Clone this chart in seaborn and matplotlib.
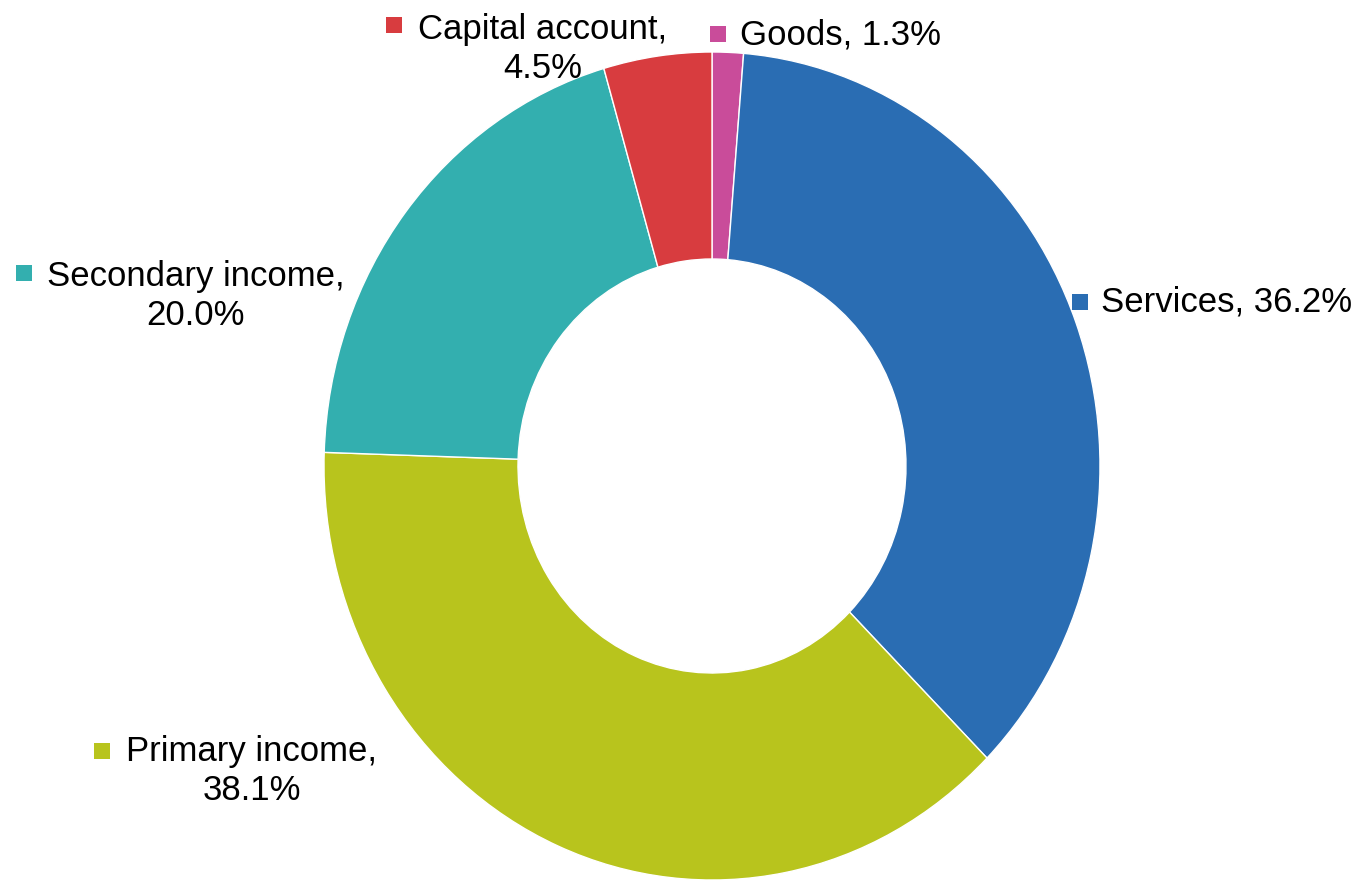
import matplotlib
matplotlib.use("Agg")
import matplotlib.pyplot as plt
import seaborn as sns

# data, clockwise from 12 o'clock
categories = ["Goods", "Services", "Primary income", "Secondary income", "Capital account"]
shares = [1.3, 36.2, 38.1, 20.0, 4.5]
colors = ["#C94C9A", "#2A6DB3", "#B8C41D", "#33AFAF", "#D83C3F"]

sns.set_style("white")
plt.rcParams["font.family"] = ["Liberation Sans", "DejaVu Sans"]

W, H = 1362, 882
fig = plt.figure(figsize=(W / 100, H / 100), dpi=100)

# pie axes: radius 1 -> 388 px wide, 414 px tall (chart is a bit stretched)
ax = fig.add_axes([0, 0, 1, 1])
cx, cy, rx, ry = 712, 466, 388, 414
ax.pie(shares, colors=colors, startangle=90, counterclock=False, radius=1,
       wedgeprops=dict(width=0.5, edgecolor="white", linewidth=1))
ax.set_aspect("auto")
ax.set_xlim(-cx / rx, (W - cx) / rx)
ax.set_ylim(-(H - cy) / ry, cy / ry)
ax.axis("off")

# label overlay in pixel coordinates
lab = fig.add_axes([0, 0, 1, 1], facecolor="none")
lab.set_xlim(0, W)
lab.set_ylim(H, 0)
lab.axis("off")

# (text center x, text center y, square x, square y) in pixels
label_pos = {
    "Goods": (841, 35, 718, 34),
    "Services": (1227, 302, 1080, 302),
    "Primary income": (252, 771, 102, 751),
    "Secondary income": (196, 296, 24, 273),
    "Capital account": (543, 49, 394, 25),
}

for cat, val, col in zip(categories, shares, colors):
    tx, ty, sx, sy = label_pos[cat]
    if cat in ("Goods", "Services"):
        txt = f"{cat}, {val:.1f}%"
    else:
        txt = f"{cat},\n{val:.1f}%"
    lab.text(tx, ty, txt, ha="center", va="center", multialignment="center",
             fontsize=25, color="black", linespacing=1.25)
    lab.plot(sx, sy, marker="s", markersize=12, color=col, markeredgewidth=0)

fig.savefig("out.png", dpi=100)
